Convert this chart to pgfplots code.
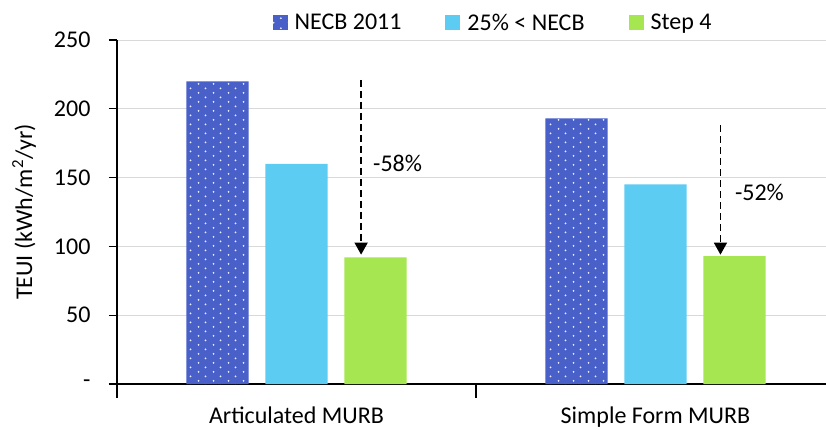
\documentclass[border=0pt]{standalone}
\usepackage{fontspec}
\setmainfont{Carlito}
\usepackage{pgfplots}
\pgfplotsset{compat=1.18}
\usetikzlibrary{arrows.meta,patterns}
\newcommand\fs{\fontsize{24}{28.8}\selectfont}
\definecolor{cA}{RGB}{72,96,200}
\definecolor{cB}{RGB}{93,204,242}
\definecolor{cC}{RGB}{166,230,80}
\pgfdeclarepatternformonly{mydots}{\pgfpointorigin}{\pgfpoint{15pt}{9.4pt}}{\pgfpoint{15pt}{9.4pt}}{%
  \pgfpathcircle{\pgfpoint{3.75pt}{2.35pt}}{1.05pt}%
  \pgfpathcircle{\pgfpoint{11.25pt}{7.05pt}}{1.05pt}%
  \pgfusepath{fill}}
\pgfplotstableread{
x  necb  q25  step4
0  220   160  92
1  193   145  93
}\datatab
\begin{document}
\begin{tikzpicture}
\begin{axis}[
  scale only axis, width=709pt, height=344pt,
  xmin=-0.5, xmax=1.475, ymin=0, ymax=250,
  axis x line*=bottom, axis y line*=left,
  axis line style={-, line width=1.2pt, black},
  ytick={0,50,100,150,200,250}, yticklabels={-,50,100,150,200,250},
  ymajorgrids, grid style={line width=1pt, color=black!15},
  tick align=outside, tick style={line width=1.2pt, black},
  major tick length=8pt, minor tick length=14pt,
  xtick={0,1}, xticklabels={Articulated MURB,Simple Form MURB},
  minor xtick={-0.5,0.5},
  major x tick style={draw=none},
  xticklabel style={yshift=-11pt},
  tick label style={font=\fs},
  yticklabel style={xshift=-15pt},
  ylabel={TEUI (kWh/m\textsuperscript{2}/yr)},
  ylabel style={font=\fs, at={(axis description cs:-0.131,0.5)}, anchor=center},
  legend columns=3,
  legend style={draw=none, fill=white, font=\fs, at={(axis description cs:0.215,1.05)}, anchor=west,
    /tikz/every even column/.append style={column sep=42pt}},
  mylegend/.style={legend image code/.code={\path[##1,draw=none] (0pt,-7.5pt) rectangle (15pt,7.5pt); \path (20pt,0pt);}},
  clip=false,
]
\addplot[ybar, bar width=0.173, bar shift=-0.22, fill=cA, draw=none,
  postaction={pattern=mydots, pattern color=white!88!cA}, mylegend] table[x=x,y=necb]{\datatab};
\addlegendentry{NECB 2011}
\addplot[ybar, bar width=0.173, bar shift=0, fill=cB, draw=none, mylegend] table[x=x,y=q25]{\datatab};
\addlegendentry{25\% < NECB}
\addplot[ybar, bar width=0.173, bar shift=0.22, fill=cC, draw=none, mylegend] table[x=x,y=step4]{\datatab};
\addlegendentry{Step 4}
\draw[line width=1.5pt, dash pattern=on 7pt off 4pt, -{Triangle[length=12pt,width=13pt]}] (axis cs:0.18,221) -- (axis cs:0.18,94);
\draw[line width=1.5pt, dash pattern=on 7pt off 4pt, -{Triangle[length=12pt,width=13pt]}] (axis cs:1.181,188) -- (axis cs:1.181,94);
\node[font=\fs, anchor=west, inner sep=0pt] at (axis cs:0.213,160) {-58\%};
\node[font=\fs, anchor=west, inner sep=0pt] at (axis cs:1.221,139) {-52\%};
\end{axis}
\pgfresetboundingbox
\path (-117pt,-45pt) rectangle (709pt,384pt);
\end{tikzpicture}
\end{document}
